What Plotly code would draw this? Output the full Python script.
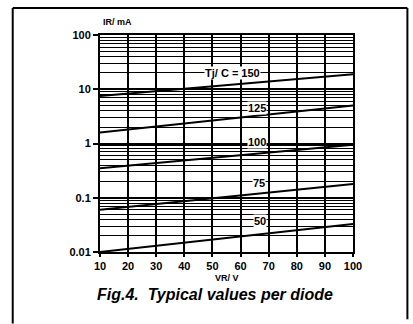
import math
import plotly.graph_objects as go

# Data
vr = [10, 100]                       # VR / V
ir_150 = [7.5, 19.0]                 # IR / mA at Tj = 150 C
ir_125 = [1.6, 5.0]
ir_100 = [0.35, 0.95]
ir_75 = [0.06, 0.18]
ir_50 = [0.010, 0.033]
series = [("150", ir_150), ("125", ir_125), ("100", ir_100), ("75", ir_75), ("50", ir_50)]

x_ticks = [10, 20, 30, 40, 50, 60, 70, 80, 90, 100]
y_ticks = [0.01, 0.1, 1, 10, 100]
y_ticktext = ["0.01", "0.1", "1", "10", "100"]

labels = [("Tj/ C = 150", 57, 20), ("125", 66, 4.6), ("100", 66, 1.08), ("75", 66.5, 0.19), ("50", 67, 0.037)]

FONT = "Liberation Sans, Arial, sans-serif"

fig = go.Figure()
for name, ys in series:
    fig.add_trace(go.Scatter(x=vr, y=ys, mode="lines", name=name,
                             line=dict(color="black", width=2), showlegend=False))

for txt, lx, ly in labels:
    fig.add_annotation(x=lx, y=math.log10(ly), yref="y", xref="x", text="<b>%s</b>" % txt,
                       showarrow=False, bgcolor="white", borderpad=0,
                       font=dict(family=FONT, size=11, color="black"))

fig.update_xaxes(range=[10, 100], tickvals=x_ticks, ticktext=["<b>%d</b>" % v for v in x_ticks],
                 showgrid=True, gridcolor="black", gridwidth=2,
                 showline=True, linecolor="black", linewidth=2, mirror=True,
                 ticks="outside", ticklen=3, tickcolor="black", tickwidth=2,
                 tickfont=dict(family=FONT, size=11, color="black"), zeroline=False)
fig.update_yaxes(type="log", range=[-2, 2], tickvals=y_ticks, ticktext=["<b>%s</b>" % t for t in y_ticktext],
                 showgrid=True, gridcolor="black", gridwidth=2,
                 minor=dict(showgrid=True, gridcolor="black", gridwidth=1, dtick="D1"),
                 showline=True, linecolor="black", linewidth=2, mirror=True,
                 ticks="outside", ticklen=5, tickcolor="black", tickwidth=2,
                 tickfont=dict(family=FONT, size=11, color="black"), zeroline=False)

fig.add_annotation(xref="paper", yref="paper", x=0.07, y=1.0, yshift=6, xanchor="center",
                   yanchor="bottom", text="<b>IR/ mA</b>", showarrow=False,
                   font=dict(family=FONT, size=9, color="black"))
fig.add_annotation(xref="paper", yref="paper", x=0.5, y=0, yshift=-19, xanchor="center",
                   yanchor="top", text="<b>VR/ V</b>", showarrow=False,
                   font=dict(family=FONT, size=9, color="black"))
fig.add_annotation(xref="paper", yref="paper", x=0.455, y=0, yshift=-32, xanchor="center",
                   yanchor="top", text="<b><i>Fig.4.  Typical values per diode</i></b>",
                   showarrow=False, font=dict(family=FONT, size=16, color="black"))

# outer frame
fig.add_shape(type="line", xref="paper", yref="paper", x0=-0.345, x1=-0.345, y0=1.125, y1=-0.33,
              line=dict(color="black", width=2))
fig.add_shape(type="line", xref="paper", yref="paper", x0=-0.345, x1=1.215, y0=1.125, y1=1.125,
              line=dict(color="black", width=2))
fig.add_shape(type="line", xref="paper", yref="paper", x0=1.215, x1=1.215, y0=1.125, y1=-0.31,
              line=dict(color="black", width=2))

fig.update_layout(width=413, height=324, margin=dict(l=100, r=60, t=35, b=72),
                  plot_bgcolor="white", paper_bgcolor="white")
fig.write_html("out.html", config={"displayModeBar": False},
               post_script="document.body.style.margin='0';document.body.style.overflow='hidden';")
